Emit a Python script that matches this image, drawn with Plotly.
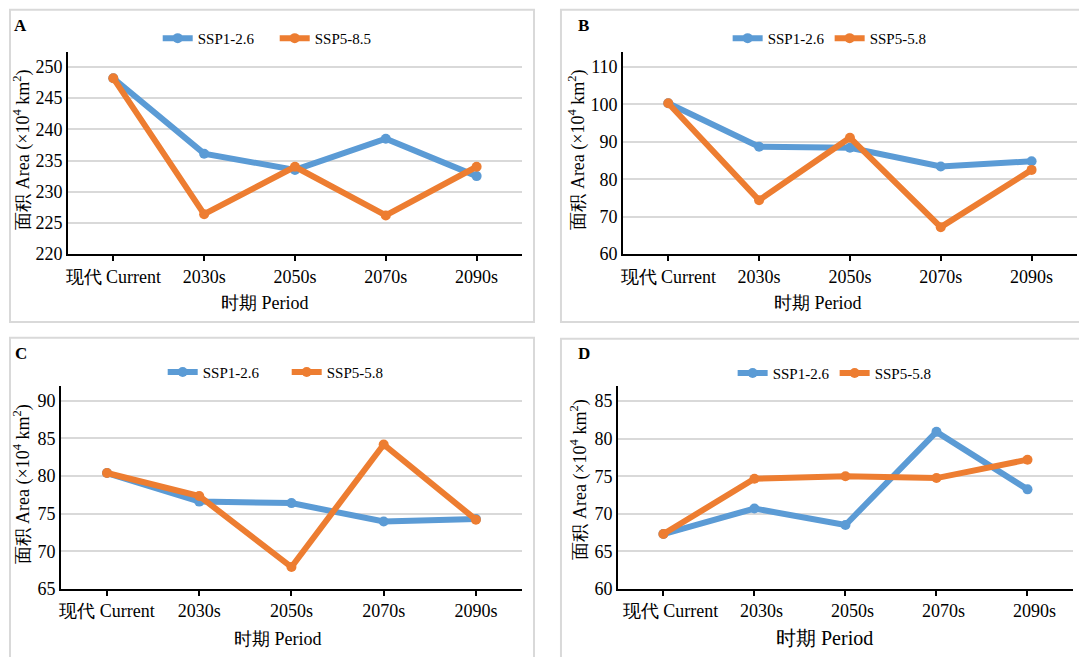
import plotly.graph_objects as go

W, H = 1079, 657

periods = ["现代 Current", "2030s", "2050s", "2070s", "2090s"]

a_ssp126 = [248.2, 236.1, 233.5, 238.5, 232.5]
a_ssp585 = [248.2, 226.4, 234.0, 226.2, 234.0]
b_ssp126 = [100.3, 88.7, 88.4, 83.4, 84.8]
b_ssp585 = [100.3, 74.4, 91.1, 67.2, 82.5]
c_ssp126 = [80.4, 76.6, 76.4, 73.95, 74.3]
c_ssp585 = [80.4, 77.35, 67.9, 84.2, 74.2]
d_ssp126 = [67.3, 70.7, 68.5, 80.9, 73.25]
d_ssp585 = [67.3, 74.66, 75.0, 74.75, 77.2]

names_a = ["SSP1-2.6", "SSP5-8.5"]
names_bcd = ["SSP1-2.6", "SSP5-5.8"]
panel_letters = ["A", "B", "C", "D"]
y_title = "面积 Area (×10<sup>4</sup> km<sup>2</sup>)"
x_title = "时期 Period"

BLUE = "#5B9BD5"
ORANGE = "#ED7D31"
FONT = "Liberation Serif"

def px(v):
    return v / W

def py(v):
    return 1 - v / H

panels = [
    dict(series=(a_ssp126, a_ssp585), names=names_a, xd=(66, 521), yd=(53, 258), yr=(220, 252.37), dt=5,
         leg_x=156, ew=72, leg_y=39, letter=(19, 26), ytit=(20, 152), xtit=(263, 308), xts=18, shift=0),
    dict(series=(b_ssp126, b_ssp585), names=names_bcd, xd=(622, 1077), yd=(53, 258), yr=(60, 113.95), dt=10,
         leg_x=727, ew=57, leg_y=39, letter=(583, 26), ytit=(576, 152), xtit=(818, 308), xts=18, shift=0),
    dict(series=(c_ssp126, c_ssp585), names=names_bcd, xd=(59, 521), yd=(392, 598), yr=(65, 91.96), dt=5,
         leg_x=161, ew=79, leg_y=378, letter=(19, 359), ytit=(20, 492), xtit=(277, 649), xts=18, shift=0),
    dict(series=(d_ssp126, d_ssp585), names=names_bcd, xd=(617, 1073), yd=(392, 598), yr=(60, 87.0), dt=5,
         leg_x=732, ew=57, leg_y=379, letter=(583, 359), ytit=(578, 487), xtit=(824, 648), xts=20, shift=7),
]

fig = go.Figure()
layout = dict(
    width=W, height=H, autosize=False,
    margin=dict(l=0, r=0, t=0, b=0),
    paper_bgcolor="white", plot_bgcolor="white",
    font=dict(family=FONT, color="#000000", size=15),
    showlegend=True,
)
annotations = []
shapes = []

borders = [(8, 533, 10, 327), (560, 1090, 10, 327), (8, 533, 343, 670), (560, 1090, 344, 670)]
for (x0, x1, y0, y1) in borders:
    shapes.append(dict(type="rect", xref="paper", yref="paper",
                       x0=px(x0), x1=px(x1), y0=py(y1), y1=py(y0),
                       line=dict(color="#D9D9D9", width=2), fillcolor="rgba(0,0,0,0)", layer="below"))

for i, p in enumerate(panels):
    n = i + 1
    sfx = "" if n == 1 else str(n)
    xa, ya = "x" + sfx, "y" + sfx
    leg = "legend" + sfx
    for vals, name, col in zip(p["series"], p["names"], (BLUE, ORANGE)):
        fig.add_trace(go.Scatter(
            x=periods, y=vals, name=name, mode="lines+markers",
            line=dict(color=col, width=6), marker=dict(color=col, size=10),
            xaxis=xa, yaxis=ya, legend=leg, cliponaxis=False,
        ))
    layout["xaxis" + sfx] = dict(
        domain=[px(p["xd"][0]), px(p["xd"][1])], anchor=ya, type="category",
        range=[-0.5, 4.5], showgrid=False, zeroline=False,
        showline=True, linecolor="#000000", linewidth=2,
        ticks="outside", ticklen=5, tickwidth=1.5, tickcolor="#000000",
        tickfont=dict(family=FONT, size=18, color="#000000"),
        ticklabelshift=p["shift"],
    )
    layout["yaxis" + sfx] = dict(
        domain=[py(p["yd"][1]), py(p["yd"][0])], anchor=xa,
        range=list(p["yr"]), dtick=p["dt"], tick0=0,
        showgrid=True, gridcolor="#D9D9D9", gridwidth=2, zeroline=False,
        showline=True, linecolor="#000000", linewidth=1.5, ticks="",
        tickfont=dict(family=FONT, size=18, color="#000000"),
    )
    layout[leg] = dict(
        orientation="h", x=px(p["leg_x"]), xanchor="left",
        y=py(p["leg_y"]), yanchor="middle",
        entrywidth=p["ew"], entrywidthmode="pixels",
        itemwidth=30, bgcolor="rgba(0,0,0,0)", borderwidth=0,
        font=dict(family=FONT, size=15, color="#000000"),
    )
    annotations.append(dict(text="<b>%s</b>" % panel_letters[i], x=px(p["letter"][0]), y=py(p["letter"][1]),
                            xref="paper", yref="paper", showarrow=False, xanchor="center", yanchor="middle",
                            font=dict(family=FONT, size=17, color="#000000")))
    annotations.append(dict(text=y_title, x=px(p["ytit"][0]), y=py(p["ytit"][1]), textangle=-90,
                            xref="paper", yref="paper", showarrow=False, xanchor="center", yanchor="middle",
                            font=dict(family=FONT, size=18, color="#000000")))
    annotations.append(dict(text=x_title, x=px(p["xtit"][0]), y=py(p["xtit"][1]),
                            xref="paper", yref="paper", showarrow=False, xanchor="center", yanchor="middle",
                            font=dict(family=FONT, size=p["xts"], color="#000000")))

layout["annotations"] = annotations
layout["shapes"] = shapes
fig.update_layout(**layout)
fig.write_html("out.html")
